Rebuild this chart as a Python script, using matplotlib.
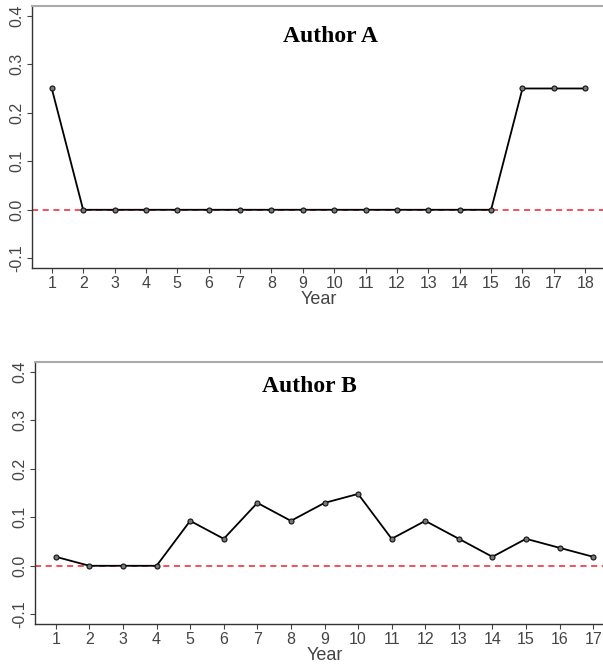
import matplotlib
matplotlib.use("Agg")
import matplotlib.pyplot as plt

# data
years_a = list(range(1, 19))
values_a = [0.25] + [0.0] * 14 + [0.25, 0.25, 0.25]

years_b = list(range(1, 18))
values_b = [0.0185, 0.0, 0.0, 0.0, 0.0926, 0.0556, 0.1296, 0.0926, 0.1296,
            0.1481, 0.0556, 0.0926, 0.0556, 0.0185, 0.0556, 0.0370, 0.0185]

y_ticks = [-0.1, 0.0, 0.1, 0.2, 0.3, 0.4]

tick_font = "Liberation Sans"

W, H = 603, 666
fig = plt.figure(figsize=(W / 100, H / 100), dpi=100)


def panel(rect, years, values, xlim, title, title_x, title_y):
    ax = fig.add_axes(rect)
    ax.axhline(0, color="#ee2233", lw=1.1, ls=(0, (4, 3)), zorder=1)
    ax.plot(years, values, color="black", lw=1.3, marker="o", ms=3.6,
            mfc="#777777", mec="#111111", mew=0.8, zorder=2)
    ax.set_xlim(*xlim)
    ax.set_ylim(-0.12, 0.42)
    ax.set_xticks(years)
    ax.set_yticks(y_ticks)
    ax.set_yticklabels([f"{t:.1f}" for t in y_ticks], rotation=90, va="center")
    ax.tick_params(axis="both", length=3.5, width=0.8, color="#444444",
                   labelcolor="#444444", labelsize=11.5, pad=2)
    for lab in ax.get_xticklabels() + ax.get_yticklabels():
        lab.set_family(tick_font)
    ax.set_xlabel("Year", fontsize=13, color="#444444", family=tick_font,
                  labelpad=0)
    for side in ("left", "bottom"):
        ax.spines[side].set_color("#333333")
        ax.spines[side].set_linewidth(1.0)
    ax.spines["top"].set_color("#aaaaaa")
    ax.spines["top"].set_linewidth(1.5)
    ax.spines["right"].set_visible(False)
    fig.text(title_x, 1 - title_y / H, title, fontsize=17,
             fontweight="bold", family="Liberation Serif", ha="center",
             va="center")
    return ax


panel([32 / W, (H - 268) / H, 573 / W, 262 / H], years_a, values_a,
      (0.37, 18.63), "Author A", 330 / W, 36)
panel([35 / W, (H - 624) / H, 579 / W, 262 / H], years_b, values_b,
      (0.38, 17.62), "Author B", 309 / W, 387)

fig.savefig("out.png", dpi=100)
